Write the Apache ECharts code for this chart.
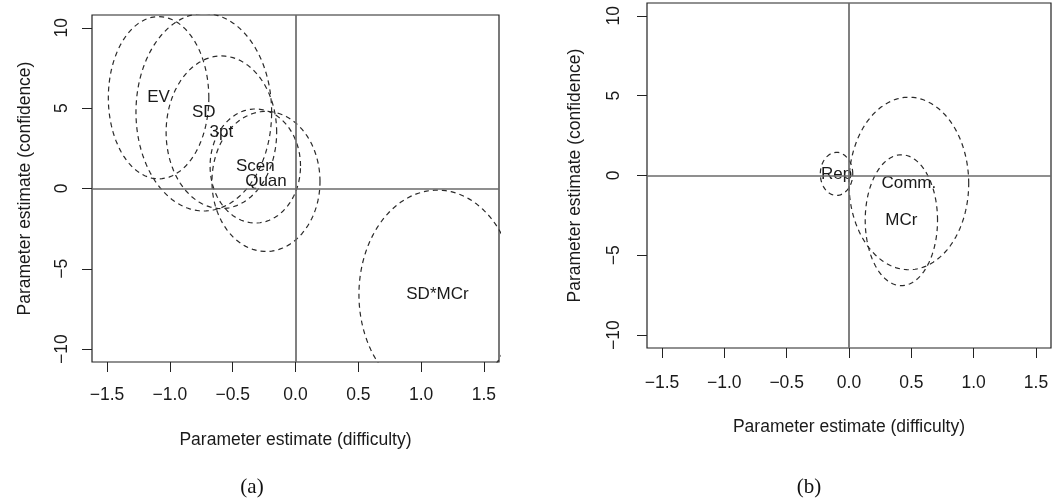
<!DOCTYPE html>
<html><head><meta charset="utf-8">
<script src="https://cdn.jsdelivr.net/npm/echarts@6/dist/echarts.min.js"></script>
<style>html,body{margin:0;padding:0;background:#fff}#c{width:1062px;height:503px}</style>
</head><body><div id="c"></div>
<script>
// tick labels
const xTicks = [-1.5, -1.0, -0.5, 0.0, 0.5, 1.0, 1.5];
const yTicks = [-10, -5, 0, 5, 10];

// panel (a): ellipse centres and half-widths (difficulty, confidence)
const aNames = ['EV', 'SD', '3pt', 'Scen', 'Quan', 'SD*MCr'];
const aCx = [-1.09, -0.73, -0.59, -0.32, -0.235, 1.13];
const aCy = [5.65, 4.75, 3.5, 1.4, 0.44, -6.6];
const aRx = [0.40, 0.54, 0.44, 0.36, 0.43, 0.625];
const aRy = [5.05, 6.15, 4.75, 3.55, 4.36, 6.5];

// panel (b)
const bNames = ['Rep', 'Comm.', 'MCr'];
const bCx = [-0.10, 0.48, 0.42];
const bCy = [0.1, -0.5, -2.8];
const bRx = [0.13, 0.48, 0.29];
const bRy = [1.35, 5.4, 4.1];

const FONT = '"Liberation Sans", Arial, sans-serif';
const TXT = '#1a1a1a';
const fmtMinus = s => String(s).replace('-', '\u2212');

function ellipsePts(cx, cy, rx, ry) {
  const pts = [];
  const n = 180;
  for (let i = 0; i <= n; i++) {
    const t = 2 * Math.PI * i / n;
    pts.push([cx + rx * Math.cos(t), cy + ry * Math.sin(t)]);
  }
  return pts;
}

function xAxisFor(gi, margin, nameGap) {
  return {
    type: 'value', gridIndex: gi, min: -1.62, max: 1.62,
    splitLine: {show: false}, axisLine: {show: false, onZero: false},
    axisTick: {show: true, inside: false, length: 10, customValues: xTicks, lineStyle: {color: '#222', width: 1}},
    axisLabel: {customValues: xTicks, formatter: v => fmtMinus(Number(v).toFixed(1)), margin: margin,
      fontSize: 17.5, color: TXT, fontFamily: FONT},
    name: 'Parameter estimate (difficulty)', nameLocation: 'middle', nameGap: nameGap,
    nameTextStyle: {fontSize: 17.5, color: TXT, fontFamily: FONT}
  };
}
function yAxisFor(gi, margin, nameGap) {
  return {
    type: 'value', gridIndex: gi, min: -10.8, max: 10.8,
    splitLine: {show: false}, axisLine: {show: false, onZero: false},
    axisTick: {show: true, inside: false, length: 10, customValues: yTicks, lineStyle: {color: '#222', width: 1}},
    axisLabel: {customValues: yTicks, formatter: v => fmtMinus(Math.round(v)), margin: margin, rotate: 90,
      fontSize: 17.5, color: TXT, fontFamily: FONT},
    name: 'Parameter estimate (confidence)', nameLocation: 'middle', nameGap: nameGap, nameRotate: 90,
    nameTextStyle: {fontSize: 17.5, color: TXT, fontFamily: FONT}
  };
}

const series = [];
function addPanel(gi, names, cx, cy, rx, ry) {
  for (let i = 0; i < names.length; i++) {
    series.push({
      type: 'line', xAxisIndex: gi, yAxisIndex: gi, data: ellipsePts(cx[i], cy[i], rx[i], ry[i]),
      showSymbol: false, symbol: 'none', smooth: false, clip: true, silent: true,
      lineStyle: {type: [5, 4], width: 1.2, color: '#2a2a2a'}, z: 3
    });
  }
  series.push({
    type: 'scatter', xAxisIndex: gi, yAxisIndex: gi, symbolSize: 1, silent: true,
    itemStyle: {color: 'rgba(0,0,0,0)', opacity: 1},
    data: names.map((n, i) => ({name: n, value: [cx[i], cy[i]]})),
    label: {show: true, position: 'inside', formatter: p => p.name, fontSize: 17, color: TXT, opacity: 1, fontFamily: FONT},
    markLine: {
      silent: true, symbol: ['none', 'none'], label: {show: false},
      lineStyle: {type: 'solid', color: '#6a6a6a', width: 1.7, opacity: 1},
      data: [{xAxis: 0}, {yAxis: 0}], animation: false
    },
    z: 4
  });
}
addPanel(0, aNames, aCx, aCy, aRx, aRy);
addPanel(1, bNames, bCx, bCy, bRx, bRy);

const chart = echarts.init(document.getElementById('c'), null, {renderer: 'canvas'});
chart.setOption({
  animation: false,
  backgroundColor: '#fff',
  grid: [
    {left: 92, top: 15, width: 407, height: 347, show: true, borderColor: '#222', borderWidth: 1.2, backgroundColor: 'transparent', containLabel: false, outerBoundsMode: 'none'},
    {left: 647, top: 3, width: 404, height: 345, show: true, borderColor: '#222', borderWidth: 1.2, backgroundColor: 'transparent', containLabel: false, outerBoundsMode: 'none'}
  ],
  xAxis: [xAxisFor(0, 24, 69), xAxisFor(1, 26, 70)],
  yAxis: [yAxisFor(0, 21, 58), yAxisFor(1, 24, 63)],
  graphic: [
    {type: 'text', x: 252, y: 487, style: {text: '(a)', font: '21px "Liberation Serif", serif', fill: '#111', align: 'center', verticalAlign: 'middle', textAlign: 'center', textVerticalAlign: 'middle'}},
    {type: 'text', x: 809, y: 487, style: {text: '(b)', font: '21px "Liberation Serif", serif', fill: '#111', align: 'center', verticalAlign: 'middle', textAlign: 'center', textVerticalAlign: 'middle'}}
  ],
  series: series
});
</script>
</body></html>
